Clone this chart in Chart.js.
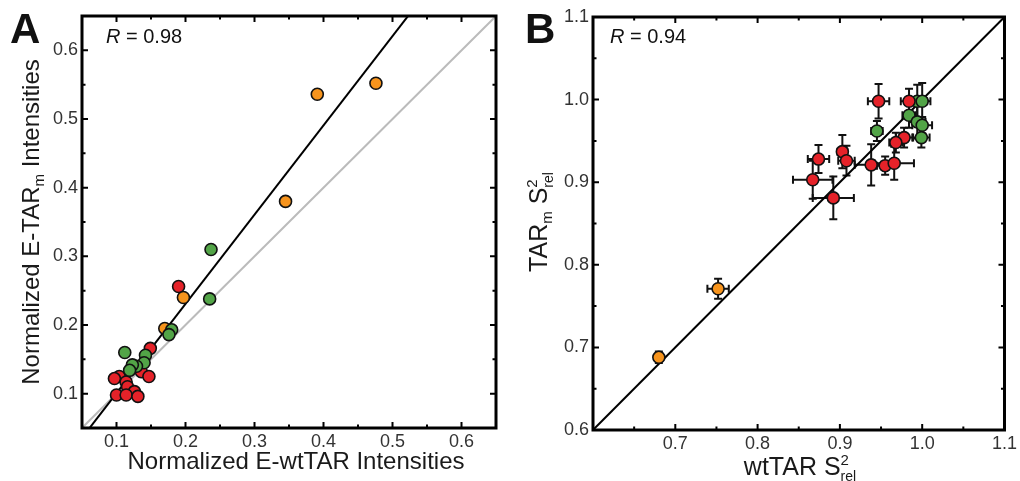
<!DOCTYPE html>
<html>
<head>
<meta charset="utf-8">
<script src="https://cdn.jsdelivr.net/npm/chart.js@4.4.1/dist/chart.umd.min.js"></script>
<style>
body { margin: 0; background: #fff; }
#wrap { position: relative; width: 1020px; height: 481px; }
canvas { position: absolute; top: 0; }
</style>
</head>
<body>
<div id="wrap">
  <canvas id="chartA" width="510" height="481" style="left:0px"></canvas>
  <canvas id="chartB" width="510" height="481" style="left:510px"></canvas>
</div>
<script>
const FONT = '"Liberation Sans", Arial, Helvetica, sans-serif';
const red = "#e52229";
const green = "#52a447";
const orange = "#f7941d";

// panel A data
const aRedX = [0.190, 0.149, 0.136, 0.147, 0.104, 0.097, 0.114, 0.116, 0.126, 0.100, 0.114, 0.131];
const aRedY = [0.256, 0.166, 0.132, 0.125, 0.125, 0.122, 0.117, 0.110, 0.103, 0.098, 0.098, 0.096];
const aGreenX = [0.237, 0.235, 0.180, 0.176, 0.112, 0.142, 0.140, 0.129, 0.123, 0.119];
const aGreenY = [0.310, 0.238, 0.193, 0.186, 0.160, 0.156, 0.145, 0.140, 0.142, 0.134];
const aOrangeX = [0.476, 0.391, 0.345, 0.197, 0.170];
const aOrangeY = [0.552, 0.536, 0.380, 0.240, 0.195];
const aRange = [0.05, 0.65];
const aTicks = [0.1, 0.2, 0.3, 0.4, 0.5, 0.6];
const aFit = [1.30, -0.0293]; // slope, intercept
const aR = "0.98";

// panel B data (value, error)
const bRedX = [0.947, 0.984, 0.978, 0.968, 0.903, 0.908, 0.874, 0.867, 0.892, 0.938, 0.955, 0.966];
const bRedY = [0.998, 0.998, 0.954, 0.948, 0.937, 0.926, 0.928, 0.903, 0.881, 0.921, 0.920, 0.923];
const bRedXErr = [0.013, 0.010, 0.010, 0.008, 0.006, 0.010, 0.013, 0.024, 0.025, 0.020, 0.010, 0.024];
const bRedYErr = [0.021, 0.015, 0.012, 0.012, 0.020, 0.018, 0.017, 0.023, 0.026, 0.025, 0.011, 0.020];
const bGreenX = [0.945, 0.994, 1.000, 0.984, 0.994, 1.000, 0.999];
const bGreenY = [0.962, 0.998, 0.998, 0.981, 0.973, 0.969, 0.954];
const bGreenXErr = [0.007, 0.012, 0.010, 0.008, 0.010, 0.012, 0.010];
const bGreenYErr = [0.012, 0.020, 0.022, 0.015, 0.020, 0.010, 0.012];
const bOrangeX = [0.680, 0.752];
const bOrangeY = [0.688, 0.771];
const bOrangeXErr = [0.005, 0.013];
const bOrangeYErr = [0.007, 0.012];
const bRange = [0.6, 1.1];
const bXTicks = [0.7, 0.8, 0.9, 1.0, 1.1];
const bYTicks = [0.6, 0.7, 0.8, 0.9, 1.0, 1.1];
const bR = "0.94";

// axis titles (text pieces with sub/superscripts)
const aTitleX = [{ t: "Normalized E-wtTAR Intensities", s: 24 }];
const aTitleY = [{ t: "Normalized E-TAR", s: 24 }, { t: "m", s: 15, dy: 5 }, { t: " Intensities", s: 24 }];
const bTitleX = [{ t: "wtTAR S", s: 25 }, { t: "2", s: 15, dy: -10 }, { t: "rel", s: 14, dy: 6, stack: true }];
const bTitleY = [{ t: "TAR", s: 25 }, { t: "m", s: 15, dy: 5 }, { t: " S", s: 25 }, { t: "2", s: 15, dy: -10 }, { t: "rel", s: 14, dy: 6, stack: true }];

function pts(xs, ys) {
  return xs.map((x, i) => ({ x: x, y: ys[i] }));
}

function mids(arr) {
  let out = [];
  for (let i = 0; i < arr.length - 1; i++) out.push((arr[i] + arr[i + 1]) / 2);
  return out;
}

function drawRich(ctx, parts, x, y, rotated) {
  ctx.save();
  ctx.translate(x, y);
  if (rotated) ctx.rotate(-Math.PI / 2);
  let cursor = 0, prevStart = 0;
  let placed = parts.map(p => {
    ctx.font = p.s + "px " + FONT;
    let w = ctx.measureText(p.t).width;
    let start = p.stack ? prevStart : cursor;
    cursor = Math.max(cursor, start + w);
    prevStart = start;
    return { p: p, start: start };
  });
  let off = -cursor / 2;
  ctx.fillStyle = "#1a1a1a";
  ctx.textBaseline = "alphabetic";
  ctx.textAlign = "left";
  placed.forEach(o => {
    ctx.font = o.p.s + "px " + FONT;
    ctx.fillText(o.p.t, off + o.start, o.p.dy || 0);
  });
  ctx.restore();
}

function scatterSet(data, color, order, errX, errY) {
  return {
    data: data,
    backgroundColor: color,
    borderColor: "#111",
    borderWidth: 1.6,
    pointRadius: 6,
    order: order,
    errX: errX,
    errY: errY
  };
}

function lineSet(data, color, order) {
  return {
    type: "line",
    data: data,
    borderColor: color,
    borderWidth: 2,
    pointRadius: 0,
    showLine: true,
    fill: false,
    order: order
  };
}

function makePanel(id, p) {
  let framePlugin = {
    id: "frame",
    beforeDatasetsDraw(chart) {
      // error bars
      let ctx = chart.ctx, sx = chart.scales.x, sy = chart.scales.y;
      ctx.save();
      ctx.strokeStyle = "#111";
      ctx.lineWidth = 2;
      chart.data.datasets.forEach(ds => {
        if (!ds.errX) return;
        ds.data.forEach((d, i) => {
          let px = sx.getPixelForValue(d.x), py = sy.getPixelForValue(d.y);
          let x0 = sx.getPixelForValue(d.x - ds.errX[i]), x1 = sx.getPixelForValue(d.x + ds.errX[i]);
          let y0 = sy.getPixelForValue(d.y - ds.errY[i]), y1 = sy.getPixelForValue(d.y + ds.errY[i]);
          ctx.beginPath();
          ctx.moveTo(x0, py); ctx.lineTo(x1, py);
          ctx.moveTo(x0, py - 4); ctx.lineTo(x0, py + 4);
          ctx.moveTo(x1, py - 4); ctx.lineTo(x1, py + 4);
          ctx.moveTo(px, y0); ctx.lineTo(px, y1);
          ctx.moveTo(px - 4, y0); ctx.lineTo(px + 4, y0);
          ctx.moveTo(px - 4, y1); ctx.lineTo(px + 4, y1);
          ctx.stroke();
        });
      });
      ctx.restore();
    },
    afterDatasetsDraw(chart) {
      let ctx = chart.ctx, a = chart.chartArea, sx = chart.scales.x, sy = chart.scales.y;
      ctx.save();
      ctx.strokeStyle = "#000";
      ctx.lineWidth = 2;
      let tick = (vals, len) => {
        vals.forEach(v => {
          let px = sx.getPixelForValue(v), py = sy.getPixelForValue(v);
          ctx.beginPath();
          ctx.moveTo(px, a.bottom); ctx.lineTo(px, a.bottom - len);
          ctx.moveTo(px, a.top); ctx.lineTo(px, a.top + len);
          ctx.moveTo(a.left, py); ctx.lineTo(a.left + len, py);
          ctx.moveTo(a.right, py); ctx.lineTo(a.right - len, py);
          ctx.stroke();
        });
      };
      tick(p.marks, 6);
      tick(mids(p.marks), 3.5);
      ctx.lineWidth = 3;
      ctx.strokeRect(a.left, a.top, a.right - a.left, a.bottom - a.top);
      ctx.restore();
    },
    afterDraw(chart) {
      let ctx = chart.ctx;
      ctx.save();
      ctx.fillStyle = "#111";
      ctx.textBaseline = "alphabetic";
      ctx.font = "bold 42px " + FONT;
      ctx.fillText(p.letter, p.letterX, 43);
      ctx.font = "italic 20px " + FONT;
      ctx.fillText("R", p.rX, 43);
      let w = ctx.measureText("R").width;
      ctx.font = "20px " + FONT;
      ctx.fillText(" = " + p.r, p.rX + w, 43);
      ctx.restore();
      drawRich(ctx, p.titleX, p.titleXPos[0], p.titleXPos[1], false);
      drawRich(ctx, p.titleY, p.titleYPos[0], p.titleYPos[1], true);
    }
  };

  let tickFont = { family: FONT, size: 18 };
  return new Chart(document.getElementById(id), {
    type: "scatter",
    data: { datasets: p.datasets },
    options: {
      responsive: false,
      animation: false,
      layout: { padding: { top: p.area.top, right: p.area.right, left: 0, bottom: 0 } },
      plugins: { legend: { display: false }, tooltip: { enabled: false } },
      scales: {
        x: {
          type: "linear", min: p.range[0], max: p.range[1],
          grid: { display: false, drawTicks: false },
          border: { display: false },
          afterBuildTicks: s => { s.ticks = p.xTicks.map(v => ({ value: v })); },
          afterFit: s => { s.height = p.area.bottom; },
          ticks: { padding: 3, color: "#333", font: tickFont, maxRotation: 0, autoSkip: false, callback: v => v.toFixed(1) }
        },
        y: {
          type: "linear", min: p.range[0], max: p.range[1],
          grid: { display: false, drawTicks: false },
          border: { display: false },
          afterBuildTicks: s => { s.ticks = p.yTicks.map(v => ({ value: v })); },
          afterFit: s => { s.width = p.area.left; },
          ticks: { padding: 4, color: "#333", font: tickFont, autoSkip: false, callback: v => v.toFixed(1) }
        }
      }
    },
    plugins: [framePlugin]
  });
}

// panel A
let ra = aRange;
makePanel("chartA", {
  datasets: [
    scatterSet(pts(aGreenX, aGreenY), green, 1),
    scatterSet(pts(aOrangeX, aOrangeY), orange, 2),
    scatterSet(pts(aRedX, aRedY), red, 3),
    lineSet([{ x: ra[0], y: aFit[0] * ra[0] + aFit[1] }, { x: ra[1], y: aFit[0] * ra[1] + aFit[1] }], "#000", 4),
    lineSet([{ x: ra[0], y: ra[0] }, { x: ra[1], y: ra[1] }], "#bbbbbb", 5)
  ],
  range: aRange,
  xTicks: aTicks,
  yTicks: aTicks,
  marks: aTicks,
  area: { left: 82, top: 16, right: 14, bottom: 53 },
  letter: "A", letterX: 10,
  r: aR, rX: 106,
  titleX: aTitleX, titleXPos: [296, 469],
  titleY: aTitleY, titleYPos: [39, 222]
});

// panel B
let rb = bRange;
makePanel("chartB", {
  datasets: [
    scatterSet(pts(bRedX, bRedY), red, 1, bRedXErr, bRedYErr),
    scatterSet(pts(bGreenX, bGreenY), green, 2, bGreenXErr, bGreenYErr),
    scatterSet(pts(bOrangeX, bOrangeY), orange, 3, bOrangeXErr, bOrangeYErr),
    lineSet([{ x: rb[0], y: rb[0] }, { x: rb[1], y: rb[1] }], "#000", 4)
  ],
  range: bRange,
  xTicks: bXTicks,
  yTicks: bYTicks,
  marks: bYTicks,
  area: { left: 83, top: 17, right: 13, bottom: 51 },
  letter: "B", letterX: 15,
  r: bR, rX: 100,
  titleX: bTitleX, titleXPos: [290, 475],
  titleY: bTitleY, titleYPos: [37, 222]
});
</script>
</body>
</html>
